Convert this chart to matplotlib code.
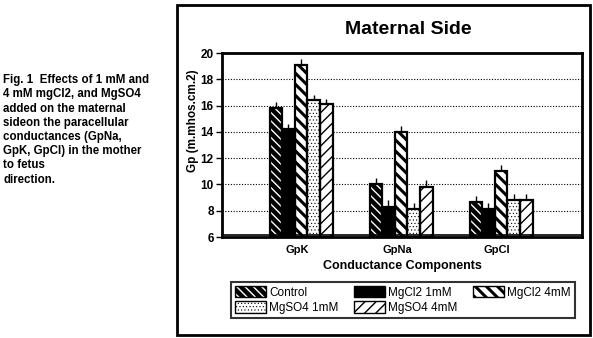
import matplotlib
matplotlib.use("Agg")
from matplotlib import pyplot as plt
from matplotlib.patches import Patch, Rectangle
import numpy as np

plt.rcParams['font.family'] = ['Liberation Sans', 'DejaVu Sans']

# data
components = ['GpK', 'GpNa', 'GpCl']
treatments = ['Control', 'MgCl2 1mM', 'MgCl2 4mM', 'MgSO4 1mM', 'MgSO4 4mM']
control = [15.8, 10.0, 8.7]
mgcl2_1 = [14.2, 8.3, 8.1]
mgcl2_4 = [19.1, 14.0, 11.0]
mgso4_1 = [16.4, 8.1, 8.8]
mgso4_4 = [16.1, 9.8, 8.8]
err_control = [0.5, 0.5, 0.45]
err_mgcl2_1 = [0.4, 0.5, 0.45]
err_mgcl2_4 = [0.45, 0.45, 0.5]
err_mgso4_1 = [0.4, 0.5, 0.5]
err_mgso4_4 = [0.4, 0.5, 0.5]
yticks = [6, 8, 10, 12, 14, 16, 18, 20]

series = [control, mgcl2_1, mgcl2_4, mgso4_1, mgso4_4]
errs = [err_control, err_mgcl2_1, err_mgcl2_4, err_mgso4_1, err_mgso4_4]
# (face, hatch colour, hatch, hatch lw)
styles = [('black', 'white', '\\\\\\\\', 1.0),
          ('black', 'black', None, 1.0),
          ('white', 'black', '\\\\\\', 2.2),
          ('white', 'black', '.....', 0.4),
          ('white', 'black', '///', 1.0)]

fig = plt.figure(figsize=(5.93, 3.38), dpi=100)
ax = fig.add_axes([222/593, 1-237/338, 360/593, 184/338])

x = np.arange(len(components))
w = 0.126
base = 6
handles = []
for i, (vals, e, st) in enumerate(zip(series, errs, styles)):
    face, hc, hatch, hlw = st
    pos = x + (i - 2) * w + 0.01
    heights = np.array(vals) - base
    bars = ax.bar(pos, heights, w, bottom=base, facecolor=face, edgecolor=hc,
                  hatch=hatch, linewidth=0, zorder=3)
    for b in bars:
        if hasattr(b, 'set_hatch_linewidth'):
            b.set_hatch_linewidth(hlw)
    ax.bar(pos, heights, w, bottom=base, facecolor='none', edgecolor='black',
           linewidth=1.6, zorder=4)
    ax.errorbar(pos, vals, yerr=[np.zeros(len(e)), e], fmt='none',
                ecolor='black', elinewidth=1, capsize=0, zorder=2)
    hp = Patch(facecolor=face, edgecolor=hc, hatch=hatch, linewidth=0)
    handles.append((hp, Patch(facecolor='none', edgecolor='black', linewidth=1)))

ax.set_ylim(6, 20)
ax.set_xlim(-0.78, 2.82)
ax.set_yticks(yticks)
ax.set_yticklabels([str(t) for t in yticks], fontweight='bold', fontsize=8.5)
ax.set_xticks(x - 0.03)
ax.set_xticklabels(components, fontweight='bold', fontsize=8)
ax.tick_params(axis='x', length=0, pad=6)
ax.tick_params(axis='y', length=4, width=1, direction='out', pad=2)
for t in [8, 10, 12, 14, 16, 18]:
    ax.axhline(t, color='black', linestyle=(0, (1, 1.5)), linewidth=0.8, zorder=1)
for s in ax.spines.values():
    s.set_linewidth(2)
ax.plot([0, 1], [0.012, 0.012], transform=ax.transAxes, color='black',
        linewidth=1.2, zorder=5, clip_on=False)
ax.set_xlabel('Conductance Components', fontweight='bold', fontsize=9, labelpad=3)
ax.set_ylabel('Gp (m.mhos.cm.2)', fontweight='bold', fontsize=8.5)
ax.yaxis.set_label_coords(-0.065, 0.63)

fig.text(408/593, 1-30/338, 'Maternal Side', fontsize=14, fontweight='bold',
         ha='center', va='center')

caption = ('Fig. 1  Effects of 1 mM and\n4 mM mgCl2, and MgSO4\n'
           'added on the maternal\nsideon the paracellular\n'
           'conductances (GpNa,\nGpK, GpCl) in the mother\nto fetus\ndirection.')
fig.text(3/593, 1-74/338, caption, fontsize=8.3, fontweight='bold',
         ha='left', va='top', linespacing=1.25)

# outer chart frame
fig.patches.append(Rectangle((177/593, 1-335/338), 413/593, 330/338,
                             transform=fig.transFigure, fill=False,
                             edgecolor='black', linewidth=2))

order = [0, 3, 1, 4, 2]
leg = fig.legend([handles[k] for k in order], [treatments[k] for k in order],
                 ncol=3, loc='center', bbox_to_anchor=(403/593, 1-300/338),
                 fontsize=8.5, frameon=True, fancybox=False, edgecolor='black',
                 handlelength=2.6, handleheight=1.1, handletextpad=0.3,
                 columnspacing=1.3, labelspacing=0.25, borderpad=0.35)
leg.get_frame().set_linewidth(1.5)
for p in leg.findobj(Patch):
    if not hasattr(p, 'set_hatch_linewidth'):
        break
    for face, hc, hatch, hlw in styles:
        if hatch is not None and p.get_hatch() == hatch:
            p.set_hatch_linewidth(hlw)

fig.savefig('out.png', dpi=100)
